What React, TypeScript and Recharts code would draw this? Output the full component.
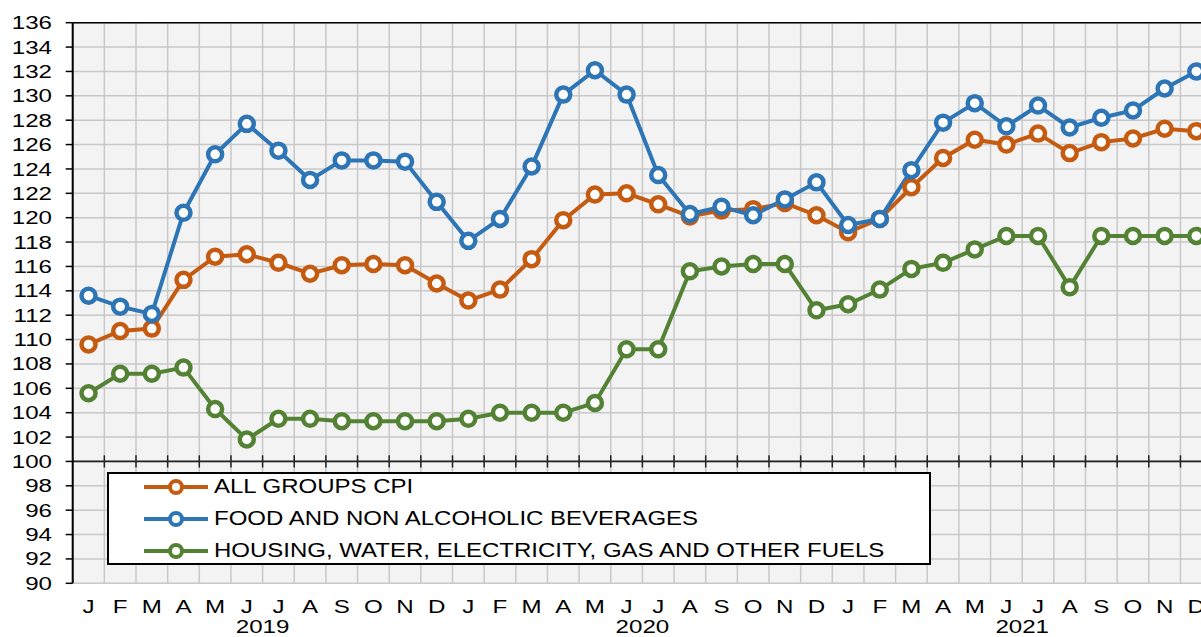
import React from 'react';
import {
  LineChart,
  Line,
  XAxis,
  YAxis,
  CartesianGrid,
  ReferenceLine,
  Legend,
} from 'recharts';

const monthInitials = ['J', 'F', 'M', 'A', 'M', 'J', 'J', 'A', 'S', 'O', 'N', 'D'];
const yearLabels = ['2019', '2020', '2021'];

const allGroupsCpi = [
  109.6, 110.7, 110.9, 114.9, 116.8, 117.0, 116.3, 115.4, 116.1, 116.2, 116.1, 114.6,
  113.2, 114.1, 116.6, 119.8, 121.9, 122.0, 121.1, 120.1, 120.6, 120.7, 121.2, 120.2,
  118.8, 119.9, 122.5, 124.9, 126.4, 126.0, 126.9, 125.3, 126.2, 126.5, 127.3, 127.1,
];
const foodBeverages = [
  113.6, 112.7, 112.1, 120.4, 125.2, 127.7, 125.5, 123.1, 124.7, 124.7, 124.6, 121.3,
  118.1, 119.9, 124.2, 130.1, 132.1, 130.1, 123.5, 120.3, 120.9, 120.2, 121.5, 122.9,
  119.4, 119.9, 123.9, 127.8, 129.4, 127.5, 129.2, 127.4, 128.2, 128.8, 130.6, 132.0,
];
const housingUtilities = [
  105.6, 107.2, 107.2, 107.7, 104.3, 101.8, 103.5, 103.5, 103.3, 103.3, 103.3, 103.3,
  103.5, 104.0, 104.0, 104.0, 104.8, 109.2, 109.2, 115.6, 116.0, 116.2, 116.2, 112.4,
  112.9, 114.1, 115.8, 116.3, 117.4, 118.5, 118.5, 114.3, 118.5, 118.5, 118.5, 118.5,
];

const yTicks = Array.from({ length: 24 }, (_, i) => 90 + i * 2);

const FONT = '"Liberation Sans", Arial, sans-serif';
const ORANGE = '#C55A11';
const BLUE = '#2E75B6';
const GREEN = '#548235';

const data = allGroupsCpi.map((v, i) => ({
  x: i + 0.5,
  month: monthInitials[i % 12],
  allGroups: v,
  food: foodBeverages[i],
  housing: housingUtilities[i],
}));

// boundaries between months (grid + tick marks on the 100 line)
const boundaries = Array.from({ length: data.length + 1 }, (_, i) => i);
// month centres plus the centre of each year group
const yearCentres = yearLabels.map((_, i) => i * 12 + 6);
const labelTicks = [...data.map((d) => d.x), ...yearCentres].sort((a, b) => a - b);

const NoTick = () => null;

const XTick = ({ x, y, payload }: any) => {
  const v = payload.value;
  if (Number.isInteger(v)) {
    const year = yearLabels[(v - 6) / 12];
    return (
      <text
        transform={`translate(${x},${y + 43}) scale(1.27,1)`}
        textAnchor="middle"
        dominantBaseline="central"
        fontFamily={FONT}
        fontSize={19}
        fill="#000"
      >
        {year}
      </text>
    );
  }
  const idx = Math.floor(v);
  return (
    <text
      transform={`translate(${x},${y + 23}) scale(1.27,1)`}
      textAnchor="middle"
      dominantBaseline="central"
      fontFamily={FONT}
      fontSize={19}
      fill="#000"
    >
      {data[idx]?.month}
    </text>
  );
};

const YTick = ({ x, y, payload }: any) => (
  <text
    transform={`translate(${x},${y}) scale(1.27,1)`}
    textAnchor="end"
    dominantBaseline="central"
    fontFamily={FONT}
    fontSize={19}
    fill="#000"
  >
    {payload.value}
  </text>
);

const LegendBox = ({ payload }: any) => (
  <div
    style={{
      position: 'relative',
      width: '100%',
      height: '100%',
      boxSizing: 'border-box',
      border: '2.5px solid #000',
      background: '#fff',
    }}
  >
    {(payload || []).map((entry: any, i: number) => (
      <div
        key={entry.value}
        style={{
          position: 'absolute',
          left: 34,
          top: i * 32 - 3,
          height: 32,
          display: 'flex',
          alignItems: 'center',
          whiteSpace: 'nowrap',
        }}
      >
        <svg width={66} height={20} style={{ display: 'block' }}>
          <line x1={1} x2={65} y1={10} y2={10} stroke={entry.color} strokeWidth={4} />
          <circle cx={33} cy={10} r={6} fill="#fff" stroke={entry.color} strokeWidth={4} />
        </svg>
        <span
          style={{
            marginLeft: 5,
            fontFamily: FONT,
            fontSize: 20,
            color: '#000',
            display: 'inline-block',
            transform: 'scaleX(1.2)',
            transformOrigin: 'left center',
          }}
        >
          {entry.value}
        </span>
      </div>
    ))}
  </div>
);

const dotStyle = (color: string) => ({ r: 7, fill: '#fff', stroke: color, strokeWidth: 4.5 });

export default function App() {
  return (
    <div
      style={{
        position: 'fixed',
        left: 0,
        top: 0,
        width: 1201,
        height: 637,
        overflow: 'hidden',
        background: '#fff',
      }}
    >
      <LineChart
        width={1230}
        height={637}
        data={data}
        margin={{ top: 22.7, right: 17.9, bottom: 0, left: 0 }}
      >
        <CartesianGrid stroke="#c8c8c8" strokeWidth={1.5} fill="#f3f3f3" />
        <XAxis
          dataKey="x"
          type="number"
          domain={[0, 36]}
          ticks={boundaries}
          interval={0}
          height={0}
          tick={NoTick}
          tickLine={false}
          axisLine={{ stroke: '#000', strokeWidth: 1.5 }}
        />
        <XAxis
          xAxisId="lbl"
          dataKey="x"
          type="number"
          domain={[0, 36]}
          ticks={labelTicks}
          interval={0}
          height={53.7}
          tickSize={0}
          tickMargin={0}
          tickLine={false}
          axisLine={false}
          tick={<XTick />}
        />
        <YAxis
          width={72.7}
          domain={[90, 136]}
          ticks={yTicks}
          interval={0}
          allowDataOverflow
          tickSize={7}
          tickMargin={13.7}
          tickLine={{ stroke: '#000', strokeWidth: 1.5 }}
          axisLine={{ stroke: '#000', strokeWidth: 2 }}
          tick={<YTick />}
        />
        <ReferenceLine y={136} stroke="#000" strokeWidth={1.5} />
        <ReferenceLine y={100} stroke="#222" strokeWidth={1.8} />
        {boundaries.slice(1, -1).map((k) => (
          <ReferenceLine
            key={k}
            segment={[
              { x: k, y: 99.5 },
              { x: k, y: 100.5 },
            ]}
            stroke="#222"
            strokeWidth={1.5}
          />
        ))}
        <Legend
          layout="vertical"
          align="center"
          verticalAlign="middle"
          content={<LegendBox />}
          wrapperStyle={{ position: 'absolute', left: 107.3, top: 471.7, width: 823.4, height: 93.3 }}
        />
        <Line
          xAxisId="lbl"
          dataKey="allGroups"
          name="ALL GROUPS CPI"
          stroke={ORANGE}
          strokeWidth={4}
          dot={dotStyle(ORANGE)}
          activeDot={false}
          isAnimationActive={false}
        />
        <Line
          xAxisId="lbl"
          dataKey="food"
          name="FOOD AND NON ALCOHOLIC BEVERAGES"
          stroke={BLUE}
          strokeWidth={4}
          dot={dotStyle(BLUE)}
          activeDot={false}
          isAnimationActive={false}
        />
        <Line
          xAxisId="lbl"
          dataKey="housing"
          name="HOUSING, WATER, ELECTRICITY, GAS AND OTHER FUELS"
          stroke={GREEN}
          strokeWidth={4}
          dot={dotStyle(GREEN)}
          activeDot={false}
          isAnimationActive={false}
        />
      </LineChart>
    </div>
  );
}
